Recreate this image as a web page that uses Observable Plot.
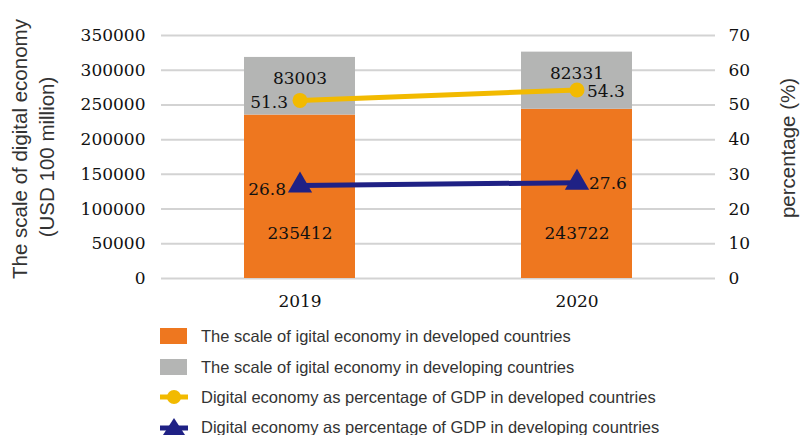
<!DOCTYPE html>
<html>
<head>
<meta charset="utf-8">
<script src="https://cdn.jsdelivr.net/npm/d3@7"></script>
<script src="https://cdn.jsdelivr.net/npm/@observablehq/plot@0.6"></script>
<style>
  html, body { margin: 0; padding: 0; background: #fff; overflow: hidden; }
  #wrap { position: relative; width: 801px; height: 435px; }
  .row { position: absolute; left: 160px; height: 22px; display: flex; align-items: center;
         font-family: "Liberation Sans", Arial, sans-serif; font-size: 16.5px; color: #333; white-space: nowrap; }
  .row svg { width: 30px; height: 22px; margin-right: 11px; flex: none; }
</style>
</head>
<body>
<div id="wrap"></div>
<script>
const years = ["2019", "2020"];
const developedScale = [235412, 243722];
const developingScale = [83003, 82331];
const developedPct = [51.3, 54.3];
const developingPct = [26.8, 27.6];
const leftTicks = [0, 50000, 100000, 150000, 200000, 250000, 300000, 350000];
const rightTicks = [0, 10, 20, 30, 40, 50, 60, 70];
const seriesNames = [
  "The scale of igital economy in developed countries",
  "The scale of igital economy in developing countries",
  "Digital economy as percentage of GDP in developed countries",
  "Digital economy as percentage of GDP in developing countries"
];
const colors = ["#EE771F", "#B4B5B4", "#F2BA00", "#1F2185"];

const k = 350000 / 70; // right-axis mapping

const stackData = [];
years.forEach((y, i) => {
  stackData.push({year: y, series: "developed", value: developedScale[i]});
  stackData.push({year: y, series: "developing", value: developingScale[i]});
});
const devPctData = years.map((y, i) => ({year: y, v: developedPct[i] * k, label: developedPct[i].toFixed(1)}));
const dvgPctData = years.map((y, i) => ({year: y, v: developingPct[i] * k, label: developingPct[i].toFixed(1)}));
const totals = years.map((y, i) => ({year: y, v: developedScale[i] + developingScale[i], label: String(developingScale[i])}));
const bases = years.map((y, i) => ({year: y, v: 0, label: String(developedScale[i])}));

const serif = "'DejaVu Serif', serif";
const sans = "'Liberation Sans', Arial, sans-serif";

const chart = Plot.plot({
  width: 801,
  height: 310,
  marginLeft: 161,
  marginRight: 86,
  marginTop: 35,
  marginBottom: 32,
  style: {fontFamily: serif, fontSize: "17px", color: "#111", background: "transparent"},
  x: {domain: years, paddingInner: 0.6, paddingOuter: 0.3, label: null},
  y: {domain: [0, 350000], label: null},
  color: {domain: ["developed", "developing"], range: [colors[0], colors[1]]},
  marks: [
    Plot.gridY(leftTicks, {stroke: "#d3d3d3", strokeOpacity: 1, strokeWidth: 2}),
    Plot.barY(stackData, {x: "year", y: "value", fill: "series", order: null}),
    Plot.axisY(leftTicks, {anchor: "left", tickSize: 0, tickPadding: 16, tickFormat: d => String(d), fontSize: 17, label: null}),
    Plot.axisY(rightTicks.map(d => d * k), {anchor: "right", tickSize: 0, tickPadding: 13, tickFormat: d => String(d / k), fontSize: 17, label: null}),
    Plot.axisX({tickSize: 0, tickPadding: 16, fontSize: 17, label: null}),
    Plot.line(devPctData, {x: "year", y: "v", stroke: colors[2], strokeWidth: 5}),
    Plot.dot(devPctData, {x: "year", y: "v", symbol: "circle", r: 7.5, fill: colors[2]}),
    Plot.line(dvgPctData, {x: "year", y: "v", stroke: colors[3], strokeWidth: 5}),
    Plot.dot(dvgPctData, {x: "year", y: "v", symbol: "triangle", r: 9, fill: colors[3]}),
    Plot.text(totals, {x: "year", y: "v", text: "label", dy: 21, fill: "#111"}),
    Plot.text(bases, {x: "year", y: "v", text: "label", dy: -45, fill: "#111"}),
    Plot.text([devPctData[0]], {x: "year", y: "v", text: "label", textAnchor: "end", dx: -12, dy: 2, fill: "#111"}),
    Plot.text([devPctData[1]], {x: "year", y: "v", text: "label", textAnchor: "start", dx: 10, dy: 2, fill: "#111"}),
    Plot.text([dvgPctData[0]], {x: "year", y: "v", text: "label", textAnchor: "end", dx: -14, dy: 4, fill: "#111"}),
    Plot.text([dvgPctData[1]], {x: "year", y: "v", text: "label", textAnchor: "start", dx: 12, dy: 1, fill: "#111"}),
    Plot.text(["The scale of digital economy"], {frameAnchor: "left", textAnchor: "middle", dx: -141, dy: -8, rotate: -90, fontFamily: sans, fontSize: 20.5, fill: "#333"}),
    Plot.text(["(USD 100 million)"], {frameAnchor: "left", textAnchor: "middle", dx: -114, dy: 0, rotate: -90, fontFamily: sans, fontSize: 20.5, fill: "#333"}),
    Plot.text(["percentage (%)"], {frameAnchor: "right", textAnchor: "middle", dx: 73, dy: -9, rotate: -90, fontFamily: sans, fontSize: 20.5, fill: "#333"})
  ]
});

const wrap = document.getElementById("wrap");
wrap.appendChild(chart);

const rowCenters = [336, 367, 397, 427];
const swatches = [
  `<svg viewBox="0 0 30 22"><rect x="0" y="3" width="27" height="16" fill="${colors[0]}"/></svg>`,
  `<svg viewBox="0 0 30 22"><rect x="0" y="3" width="27" height="16" fill="${colors[1]}"/></svg>`,
  `<svg viewBox="0 0 30 22"><line x1="0" y1="11" x2="28" y2="11" stroke="${colors[2]}" stroke-width="5"/><circle cx="14" cy="11" r="7" fill="${colors[2]}"/></svg>`,
  `<svg viewBox="0 0 30 22"><line x1="0" y1="12" x2="28" y2="12" stroke="${colors[3]}" stroke-width="5"/><path d="M14,2 L25,19 L3,19 Z" fill="${colors[3]}"/></svg>`
];
seriesNames.forEach((name, i) => {
  const row = document.createElement("div");
  row.className = "row";
  row.style.top = (rowCenters[i] - 11) + "px";
  row.innerHTML = swatches[i] + `<span>${name}</span>`;
  wrap.appendChild(row);
});
</script>
</body>
</html>
